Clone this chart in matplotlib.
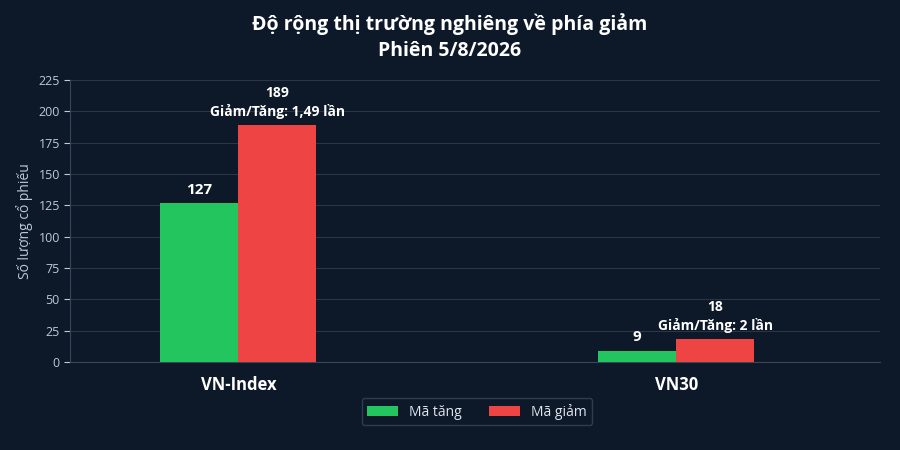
import matplotlib
matplotlib.use("Agg")
import matplotlib.pyplot as plt
import numpy as np

plt.rcParams['font.family'] = ['Open Sans', 'DejaVu Sans']

categories = ["VN-Index", "VN30"]
tang = [127, 9]
giam = [189, 18]
ratio_labels = ["Giảm/Tăng: 1,49 lần", "Giảm/Tăng: 2 lần"]
yticks = [0, 25, 50, 75, 100, 125, 150, 175, 200, 225]

bg = "#0d1829"
fig = plt.figure(figsize=(9, 4.5), dpi=100, facecolor=bg)
ax = fig.add_axes([0.078, 0.196, 0.9, 0.626], facecolor=bg)

x = np.arange(len(categories))
w = 0.178
ax.bar(x - w/2, tang, w, color="#22c55e", label="Mã tăng", zorder=3)
ax.bar(x + w/2, giam, w, color="#ef4444", label="Mã giảm", zorder=3)

for xi, v in zip(x - w/2, tang):
    ax.text(xi, v + 5, str(v), ha="center", va="bottom", color="white", fontsize=11, fontweight="bold")
for xi, v, r in zip(x + w/2, giam, ratio_labels):
    ax.text(xi, v + 5, f"{v}\n{r}", ha="center", va="bottom", color="white", fontsize=10, fontweight="bold", linespacing=1.3)

ax.set_xlim(-0.384, 1.466)
ax.set_ylim(0, 225)
ax.set_yticks(yticks)
ax.set_xticks(x)
ax.set_xticklabels(categories, fontsize=12, fontweight="bold", color="white")
ax.tick_params(axis="y", colors="#c0c8d4", labelsize=9, length=4)
ax.tick_params(axis="x", length=0, pad=10)
ax.grid(axis="y", color="#2a3648", linewidth=0.8, zorder=0)
for s in ["top", "right"]:
    ax.spines[s].set_visible(False)
ax.spines["left"].set_color("#3a4658")
ax.spines["bottom"].set_color("#3a4658")
ax.set_ylabel("Số lượng cổ phiếu", color="#c0c8d4", fontsize=10)

fig.suptitle("Độ rộng thị trường nghiêng về phía giảm\nPhiên 5/8/2026", color="white",
             fontsize=14, fontweight="bold", y=0.97, linespacing=1.4)

leg = fig.legend(loc="lower center", bbox_to_anchor=(0.53, 0.04), ncol=2, frameon=True,
                 fontsize=10, handlelength=2.2, columnspacing=2)
leg.get_frame().set_facecolor(bg)
leg.get_frame().set_edgecolor("#3a4658")
for t in leg.get_texts():
    t.set_color("#e0e6ee")

fig.savefig("out.png", facecolor=bg)
